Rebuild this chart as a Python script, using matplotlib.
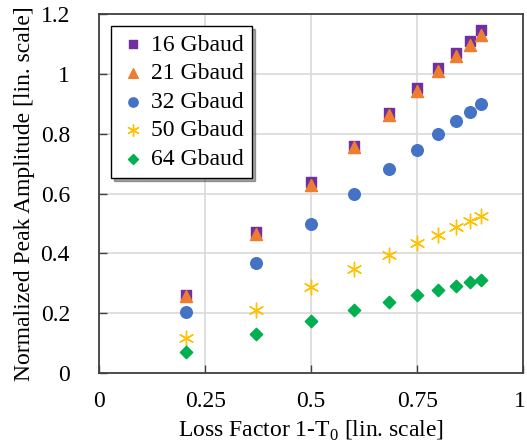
import matplotlib
matplotlib.use("Agg")
import matplotlib.pyplot as plt
import matplotlib.transforms as mtransforms
from matplotlib.ticker import FuncFormatter

plt.rcParams['font.family'] = ['Liberation Serif', 'DejaVu Serif']
plt.rcParams['mathtext.fontset'] = 'custom'
plt.rcParams['mathtext.rm'] = 'Liberation Serif'

# loss factor 1-T0 (1..10 dB attenuation)
loss = [0.206, 0.369, 0.499, 0.602, 0.684, 0.749, 0.800, 0.842, 0.874, 0.900]

amp_16 = [0.262, 0.471, 0.638, 0.760, 0.868, 0.952, 1.019, 1.069, 1.108, 1.146]
amp_21 = [0.258, 0.466, 0.630, 0.755, 0.862, 0.944, 1.008, 1.058, 1.097, 1.130]
amp_32 = [0.204, 0.367, 0.497, 0.599, 0.682, 0.746, 0.799, 0.841, 0.872, 0.898]
amp_50 = [0.116, 0.212, 0.288, 0.348, 0.396, 0.434, 0.463, 0.489, 0.509, 0.524]
amp_64 = [0.071, 0.130, 0.174, 0.210, 0.239, 0.262, 0.279, 0.291, 0.303, 0.311]

labels = ["16 Gbaud", "21 Gbaud", "32 Gbaud", "50 Gbaud", "64 Gbaud"]

fig, ax = plt.subplots(figsize=(5.27, 4.48), dpi=100)
fig.subplots_adjust(left=0.188, right=0.993, top=0.969, bottom=0.167)

ax.scatter(loss, amp_16, marker='s', s=60, color='#7030A0', label=labels[0], zorder=3)
ax.scatter(loss, amp_21, marker='^', s=75, color='#ED7D31', label=labels[1], zorder=4)
ax.scatter(loss, amp_32, marker='o', s=70, color='#4472C4', label=labels[2], zorder=3)
ax.scatter(loss, amp_50, marker=(6, 2, 0), s=110, color='#FFC000', linewidths=1.0,
           label=labels[3], zorder=3)
ax.scatter(loss, amp_64, marker='D', s=40, color='#00B050', label=labels[4], zorder=3)

ax.set_xlim(0, 1)
ax.set_ylim(0, 1.2)
ax.set_xticks([0, 0.25, 0.5, 0.75, 1])
ax.set_yticks([0, 0.2, 0.4, 0.6, 0.8, 1.0, 1.2])
fmt = FuncFormatter(lambda v, p: ('%g' % round(v, 2)))
ax.xaxis.set_major_formatter(fmt)
ax.yaxis.set_major_formatter(fmt)
ax.grid(True, color='#D9D9D9', linewidth=1.2, zorder=0)
ax.set_axisbelow(True)
ax.tick_params(direction='in', length=6, width=1, colors='#404040', labelcolor='black',
               labelsize=17, pad=13)
ax.tick_params(axis='y', pad=21)
for s in ax.spines.values():
    s.set_color('#404040')
    s.set_linewidth(1.3)

# last x tick label sits against the figure edge, keep it inside
last = ax.xaxis.get_major_ticks()[-1].label1
last.set_horizontalalignment('right')
last.set_transform(last.get_transform() +
                   mtransforms.ScaledTranslation(2 / 72, 0, fig.dpi_scale_trans))

ax.set_xlabel('Loss Factor 1-T$_0$ [lin. scale]', fontsize=17, labelpad=5)
ax.set_ylabel('Normalized Peak Amplitude [lin. scale]', fontsize=17, labelpad=4)

leg = ax.legend(loc='upper left', bbox_to_anchor=(0.0275, 0.967), borderaxespad=0,
                fontsize=17, markerscale=0.8,
                frameon=True, fancybox=False, shadow=True, handletextpad=0.15,
                borderpad=0.35, labelspacing=0.3, handlelength=1.2)
leg.get_frame().set_edgecolor('black')
leg.get_frame().set_linewidth(1.0)

fig.savefig('out.png', dpi=100)
